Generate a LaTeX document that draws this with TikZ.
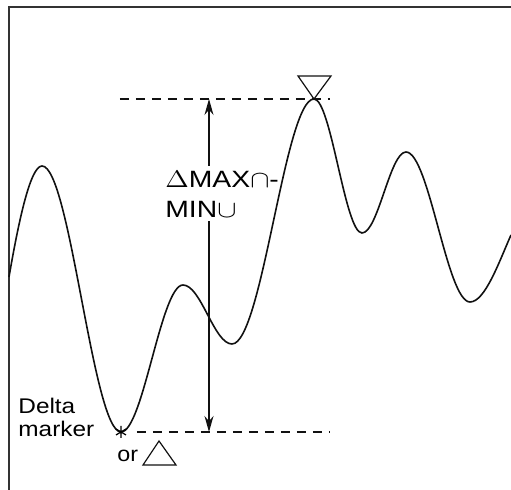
\documentclass[tikz,border=0pt]{standalone}
\usepackage{fontspec}
\setmainfont{Liberation Sans}
\usepackage{graphicx}
\usetikzlibrary{arrows.meta,positioning,calc}
\definecolor{cInk}{HTML}{111111}
\definecolor{cFrame}{HTML}{333333}
\newcommand{\widetxt}[2]{\scalebox{#1}[1]{#2}}
\tikzset{
  frame/.style  = {draw=cFrame, line width=1pt},
  trace/.style  = {draw=cInk, line width=0.8pt},
  level/.style  = {draw=cInk, line width=0.65pt, dash pattern=on 4.5pt off 3.5pt},
  span/.style   = {draw=cInk, line width=0.6pt, -{Stealth[length=8pt,width=4.5pt]}},
  tri/.style    = {draw=cInk, line width=0.6pt, line join=miter},
  txtbig/.style = {inner sep=0pt, align=left, font=\fontsize{11.8}{15}\selectfont},
  txt/.style    = {inner sep=0pt, align=left, font=\fontsize{10.6}{11.5}\selectfont},
}

\begin{document}
\begin{tikzpicture}[x=0.5pt, y=-0.5pt]
  \useasboundingbox (0,0) rectangle (511,490);
  % frame (left and top edge only)
  \draw[frame] (9,490) -- (9,7) -- (511,7);

  % trace and its extremes
  \coordinate (peak) at (314,99);
  \coordinate (dip)  at (121,432);
  \draw[trace] (9,277) .. controls (18,225) and (30,166) .. (42,166)
    .. controls (70,166) and (93,432) .. (dip)
    .. controls (143,432) and (161,285) .. (183,285)
    .. controls (201,285) and (214,344) .. (232,344)
    .. controls (262,344) and (285,99) .. (peak)
    .. controls (331,99) and (345,233) .. (362,233)
    .. controls (378,233) and (390,152) .. (406,152)
    .. controls (429,152) and (447,302) .. (470,302)
    .. controls (485,302) and (499,262) .. (511,235);

  % levels
  \coordinate (topL) at (120,99);
  \coordinate (topR) at (330,99);
  \coordinate (lowL) at (137,432);
  \coordinate (lowR) at (330,432);
  \draw[level] (topL) -- (topR);
  \draw[level] (lowL) -- (lowR);

  % delta span
  \coordinate (spanTop) at (209,99);
  \coordinate (spanLow) at (209,432);
  \node[txtbig, anchor=north west] (lblSpan) at (165,171)
    {\widetxt{1.2}{$\Delta$MAX$\cap$-}\\\widetxt{1.2}{MIN$\cup$}};
  \draw[span, shorten <=2.5pt] (lblSpan.north -| spanTop) -- (spanTop);
  \draw[span, shorten <=1.5pt] (lblSpan.south -| spanLow) -- (spanLow);

  % markers
  \draw[tri] (peak) -- ++(-16,-23) -- ++(33,0) -- cycle;
  \draw[line width=0.6pt] (dip) ++(0,-6) -- ++(0,12)
    (dip) ++(-5,-3) -- ++(10,6)
    (dip) ++(-5,3) -- ++(10,-6);
  \node[txt, anchor=north west] (lblDelta) at (18,398)
    {\widetxt{1.15}{Delta}\\\widetxt{1.15}{marker}};
  \node[txt, anchor=base west] (lblOr) at (117,462) {\widetxt{1.1}{or}};
  \coordinate (triLow) at (159,441);
  \draw[tri] (triLow) -- ++(17,24) -- ++(-33,0) -- cycle;
\end{tikzpicture}
\end{document}
